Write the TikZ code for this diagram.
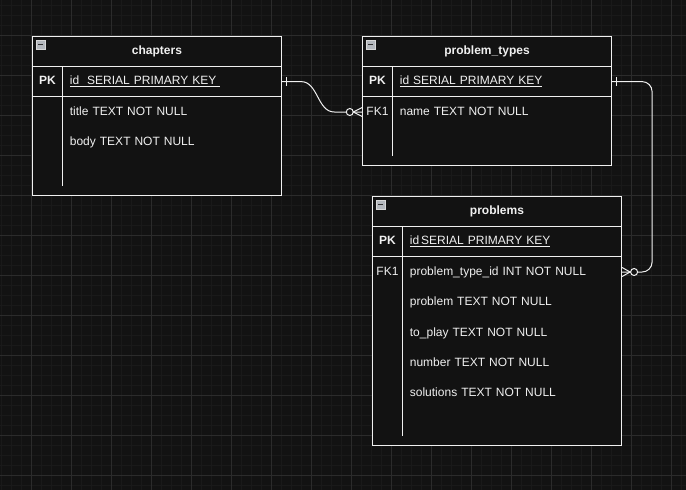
\documentclass[tikz,border=0pt]{standalone}
\usepackage{fontspec}
\setmainfont{Liberation Sans}
\usetikzlibrary{calc,positioning}

\definecolor{canvas}{HTML}{121212}
\definecolor{gridmajor}{HTML}{2B2B2B}
\definecolor{gridminor}{HTML}{191919}
\definecolor{ink}{HTML}{F0F0F0}
\definecolor{foldfill}{HTML}{B4B8BE}
\definecolor{foldline}{HTML}{D8D8D8}

\newcommand\erfont{\fontsize{12}{14}\selectfont}

\tikzset{
  every node/.style={text=ink, font=\erfont},
  tablebox/.style={draw=ink, fill=canvas, line width=1pt, anchor=north west,
    minimum width=249pt, inner sep=0pt},
  headcell/.style={minimum width=249pt, minimum height=30pt, inner sep=0pt,
    font=\erfont\bfseries},
  keycell/.style={minimum width=30pt, minimum height=30pt, inner sep=0pt,
    text height=9pt, text depth=2.5pt},
  fieldcell/.style={minimum height=30pt, text width=205pt, align=left,
    inner xsep=7pt, inner ysep=0pt, text height=9pt, text depth=2.5pt},
  keybold/.style={font=\erfont\bfseries},
  foldbox/.style={draw=foldline, fill=foldfill, line width=0.6pt,
    minimum size=8.5pt, inner sep=0pt, text=black!80},
  rule/.style={draw=ink, line width=1pt},
  link/.style={draw=ink, line width=1pt},
}

\begin{document}
\begin{tikzpicture}[x=1pt,y=-1pt]
              \fill[canvas](0,0)rectangle(686,490);
              \useasboundingbox (0,0) rectangle (686,490);
              % grid
              \foreach \x in {1,11,...,681} \draw[gridminor,line width=0.8pt] (\x,0) -- (\x,490);
              \foreach \y in {5,15,...,485} \draw[gridminor,line width=0.8pt] (0,\y) -- (686,\y);
              \foreach \x in {31,71,...,671} \draw[gridmajor,line width=0.8pt] (\x,0) -- (\x,490);
              \foreach \y in {35,75,...,475} \draw[gridmajor,line width=0.8pt] (0,\y) -- (686,\y);

              % chapters
              \node[tablebox,minimum height=159pt](chapters)at(32,36){};
              \node[headcell,below=0pt of chapters.north](chapters-head){chapters};
              \node[foldbox,below right=4pt and 4pt of chapters.north west]{\rule{5pt}{1.4pt}};
              \draw[rule](chapters-head.south west)--(chapters-head.south east);
              \node[keycell,keybold,below right=0pt of chapters-head.south west](chapters-pk){PK};
              \node[fieldcell,right=0pt of chapters-pk](chapters-id){\underline{id\ \ SERIAL PRIMARY KEY\ }};
              \draw[rule](chapters-pk.south west)--(chapters-id.south east);
              \node[fieldcell,below=0pt of chapters-id](chapters-title){title TEXT NOT NULL};
              \node[fieldcell,below=0pt of chapters-title](chapters-body){body TEXT NOT NULL};
              \draw[rule](chapters-pk.north east)--($(chapters.south -| chapters-pk.east)+(0,-10)$);

              % problem_types
              \node[tablebox,minimum height=129pt](ptypes)at(362,36){};
              \node[headcell,below=0pt of ptypes.north](ptypes-head){problem\_types};
              \node[foldbox,below right=4pt and 4pt of ptypes.north west]{\rule{5pt}{1.4pt}};
              \draw[rule](ptypes-head.south west)--(ptypes-head.south east);
              \node[keycell,keybold,below right=0pt of ptypes-head.south west](ptypes-pk){PK};
              \node[fieldcell,right=0pt of ptypes-pk](ptypes-id){\underline{id SERIAL PRIMARY KEY}};
              \draw[rule](ptypes-pk.south west)--(ptypes-id.south east);
              \node[keycell,below=0pt of ptypes-pk](ptypes-fk){FK1};
              \node[fieldcell,right=0pt of ptypes-fk](ptypes-name){name TEXT NOT NULL};
              \draw[rule](ptypes-pk.north east)--($(ptypes.south -| ptypes-pk.east)+(0,-10)$);

              % problems
              \node[tablebox,minimum height=249pt](problems)at(372,196){};
              \node[headcell,below=0pt of problems.north](problems-head){problems};
              \node[foldbox,below right=4pt and 4pt of problems.north west]{\rule{5pt}{1.4pt}};
              \draw[rule](problems-head.south west)--(problems-head.south east);
              \node[keycell,keybold,below right=0pt of problems-head.south west](problems-pk){PK};
              \node[fieldcell,right=0pt of problems-pk](problems-id){\underline{id\,SERIAL PRIMARY KEY}};
              \draw[rule](problems-pk.south west)--(problems-id.south east);
              \node[keycell,below=0pt of problems-pk](problems-fk){FK1};
              \node[fieldcell,right=0pt of problems-fk](problems-typeid){problem\_type\_id INT NOT NULL};
              \node[fieldcell,below=0pt of problems-typeid](problems-problem){problem TEXT NOT NULL};
              \node[fieldcell,below=0pt of problems-problem](problems-toplay){to\_play TEXT NOT NULL};
              \node[fieldcell,below=0pt of problems-toplay](problems-number){number TEXT NOT NULL};
              \node[fieldcell,below=0pt of problems-number](problems-solutions){solutions TEXT NOT NULL};
              \draw[rule](problems-pk.north east)--($(problems.south -| problems-pk.east)+(0,-10)$);

              % chapters -> problem_types
              \draw[link](chapters-id.east)--++(19,0)
                ..controls +(17,0) and +(-17,0)..($(ptypes-fk.west)+(-28,0)$)--(ptypes-fk.west);
              \draw[link]($(chapters-id.east)+(4,-4.5)$)--++(0,9);
              \draw[link,fill=canvas]($(ptypes-fk.west)+(-12.5,0)$)circle[radius=3.5pt];
              \draw[link]($(ptypes-fk.west)+(0,-4.5)$)--($(ptypes-fk.west)+(-9,0)$)--($(ptypes-fk.west)+(0,4.5)$);

              % problem_types -> problems
              \draw[link,rounded corners=10pt](ptypes-id.east)--++(40,0)|-(problems-typeid.east);
              \draw[link]($(ptypes-id.east)+(4,-4.5)$)--++(0,9);
              \draw[link,fill=canvas]($(problems-typeid.east)+(12,0)$)circle[radius=3.5pt];
              \draw[link]($(problems-typeid.east)+(0,-4.5)$)--($(problems-typeid.east)+(8,0)$)--($(problems-typeid.east)+(0,4.5)$);
            \end{tikzpicture}
\end{document}
